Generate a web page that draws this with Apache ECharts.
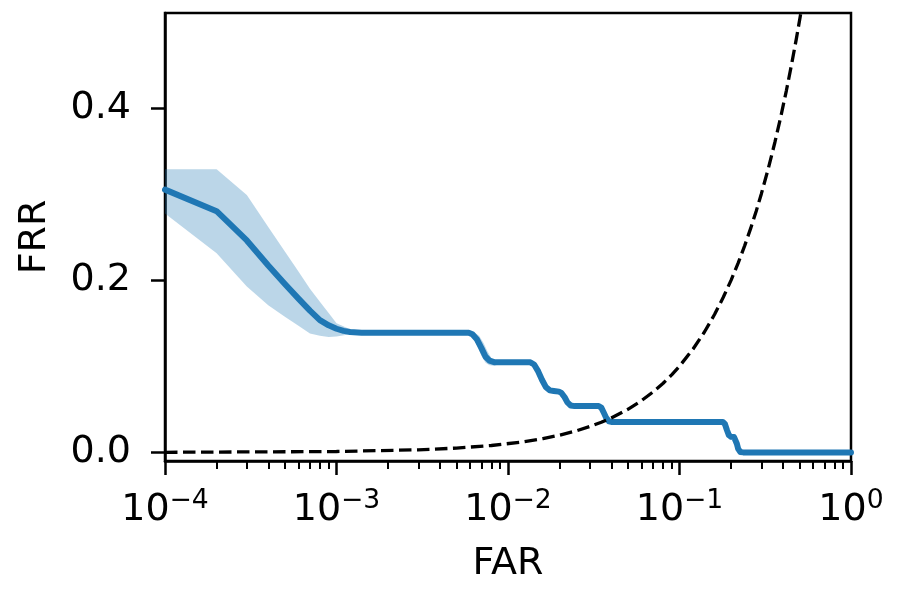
<!DOCTYPE html>
<html><head><meta charset="utf-8">
<script src="https://cdn.jsdelivr.net/npm/echarts@6/dist/echarts.min.js"></script>
<style>html,body{margin:0;padding:0;background:#fff}#c{width:900px;height:600px}</style>
</head><body><div id="c"></div>
<script>
// Mean FRR curve
const far = [0.0001,0.0002,0.0003,0.0004,0.0005,0.0006,0.0007,0.0008,0.0009,0.001,0.0011,0.0012,0.0014,0.0017,0.002,0.004,
  0.0059,0.0062,0.0066,0.0070,0.0074,0.0078,0.0083,0.009,
  0.0135,0.0142,0.015,0.0158,0.0166,0.0175,0.0185,0.0198,
  0.0205,0.0214,0.0222,0.0232,0.0245,
  0.0338,0.035,0.0362,0.0374,0.0388,0.0405,
  0.179,0.184,0.189,0.194,0.200,0.208,
  0.212,0.216,0.220,0.226,0.235,1.0];
const frr = [0.305,0.280,0.246,0.217,0.1955,0.1785,0.1645,0.1535,0.1475,0.1435,0.141,0.1398,0.1390,0.1388,0.1388,0.1388,
  0.1388,0.137,0.131,0.121,0.111,0.1065,0.1047,0.1045,
  0.1045,0.102,0.094,0.084,0.076,0.072,0.0713,0.0705,
  0.069,0.064,0.058,0.0545,0.0537,
  0.0537,0.052,0.046,0.040,0.036,0.0352,
  0.0352,0.033,0.026,0.020,0.018,0.0178,
  0.016,0.010,0.004,0.0005,0,0];
// Std band
const bandUpperFar = [0.0001,0.0002,0.0003,0.0004,0.0005,0.0006,0.0007,0.0008,0.0009,0.001,0.0012,0.0015,0.002,0.004,
  0.0059,0.0064,0.0068,0.0072,0.0076,0.0080,0.0085,0.009,
  0.0135,0.0145,0.0155,0.0165,0.0175,0.019,0.0205,0.0215,0.0225,0.024,0.026,
  0.034,0.036,0.038,0.040,0.043,0.05];
const bandUpperFrr = [0.3285,0.3285,0.2987,0.2617,0.2333,0.210,0.190,0.1748,0.1618,0.150,0.143,0.1395,0.139,0.1392,
  0.1395,0.1392,0.135,0.127,0.117,0.1095,0.1055,0.105,
  0.106,0.1035,0.094,0.082,0.075,0.073,0.072,0.068,0.060,0.056,0.055,
  0.0545,0.050,0.041,0.0365,0.036,0.0355];
const bandLowerFar = [0.0001,0.0002,0.0003,0.0004,0.0005,0.0006,0.0007,0.0008,0.0009,0.001,0.0012,0.0015,0.002,0.004,
  0.0059,0.0062,0.0066,0.0070,0.0074,0.0078,0.0083,0.009,0.010,
  0.0135,0.0142,0.015,0.0158,0.0166,0.0175,0.019,0.020,0.021,0.022,0.023,0.025,
  0.034,0.035,0.0362,0.0375,0.039,0.042,0.05];
const bandLowerFrr = [0.2774,0.231,0.1925,0.1707,0.1575,0.1469,0.138,0.1355,0.134,0.1345,0.137,0.1385,0.1385,0.1385,
  0.138,0.134,0.124,0.112,0.104,0.101,0.1005,0.1025,0.104,
  0.1035,0.100,0.091,0.080,0.073,0.0695,0.069,0.067,0.061,0.055,0.0515,0.0525,
  0.0525,0.050,0.043,0.037,0.034,0.0345,0.035];
// Reference line FRR = FAR
const eerFar = [0.0001,0.001,0.003,0.005,0.008,0.012,0.016,0.02,0.025,0.03,0.035,0.04,0.05,0.06,0.07,0.08,0.09,0.1,
  0.12,0.14,0.16,0.18,0.2,0.22,0.24,0.26,0.28,0.3,0.33,0.36,0.39,0.42,0.45,0.48,0.51,0.54];
const xMajorTicks = [0.0001,0.001,0.01,0.1,1];
const xMinorTicks = [0.0002,0.0003,0.0004,0.0005,0.0006,0.0007,0.0008,0.0009,
  0.002,0.003,0.004,0.005,0.006,0.007,0.008,0.009,
  0.02,0.03,0.04,0.05,0.06,0.07,0.08,0.09,
  0.2,0.3,0.4,0.5,0.6,0.7,0.8,0.9];
const yTicks = [0,0.2,0.4];

const FONT = 'DejaVu Sans';
const chart = echarts.init(document.getElementById('c'), null, {renderer:'canvas'});
chart.setOption({
  animation:false,
  backgroundColor:'#fff',
  grid:{left:165,right:49,top:13,bottom:139,show:true,borderColor:'#000',borderWidth:2.5,backgroundColor:'transparent'},
  xAxis:[{
    type:'log',logBase:10,min:0.0001,max:1,
    axisLine:{show:true,onZero:false,lineStyle:{color:'#000',width:2.5}},
    axisTick:{show:true,length:14,lineStyle:{color:'#000',width:2.5},customValues:xMajorTicks},
    axisLabel:{customValues:xMajorTicks,margin:24,color:'#000',
      formatter:function(v){const e=Math.round(Math.log10(v));return '{b|10}{s|'+(e<0?'\u2212'+(-e):e)+'}';},
      rich:{b:{fontFamily:FONT,fontSize:38,color:'#000',lineHeight:44,verticalAlign:'bottom'},
            s:{fontFamily:FONT,fontSize:26.6,color:'#000',lineHeight:30,verticalAlign:'bottom',padding:[0,0,14,0]}}},
    splitLine:{show:false},
    name:'FAR',nameLocation:'middle',nameGap:84,
    nameTextStyle:{fontFamily:FONT,fontSize:38,color:'#000'}
  },{
    type:'log',logBase:10,min:0.0001,max:1,position:'bottom',
    axisLine:{show:false,onZero:false},
    axisTick:{show:true,length:8,lineStyle:{color:'#000',width:2},customValues:xMinorTicks},
    axisLabel:{show:false},splitLine:{show:false}
  }],
  yAxis:{
    type:'value',min:-0.01,max:0.51,
    axisLine:{show:true,onZero:false,lineStyle:{color:'#000',width:2.5}},
    axisTick:{show:true,length:14,lineStyle:{color:'#000',width:2.5},customValues:yTicks},
    axisLabel:{customValues:yTicks,margin:34,fontFamily:FONT,fontSize:38,color:'#000',
      formatter:function(v){return v.toFixed(1);}},
    splitLine:{show:false},
    name:'FRR',nameLocation:'middle',nameGap:111,nameRotate:90,
    nameTextStyle:{fontFamily:FONT,fontSize:38,color:'#000'}
  },
  series:[{
    type:'custom',coordinateSystem:'cartesian2d',xAxisIndex:0,yAxisIndex:0,
    data:[[0.001,0.2]],clip:true,silent:true,z:1,
    renderItem:function(params,api){
      const pts=[];
      for(let i=0;i<bandUpperFar.length;i++) pts.push(api.coord([bandUpperFar[i],bandUpperFrr[i]]));
      for(let i=bandLowerFar.length-1;i>=0;i--) pts.push(api.coord([bandLowerFar[i],bandLowerFrr[i]]));
      return {type:'polygon',shape:{points:pts},style:{fill:'rgba(31,119,180,0.3)',stroke:null}};
    }
  },{
    type:'line',xAxisIndex:0,yAxisIndex:0,symbol:'none',z:3,
    data:far.map((x,i)=>[x,frr[i]]),
    lineStyle:{color:'#1f77b4',width:6,cap:'round',join:'round'}
  },{
    type:'line',xAxisIndex:0,yAxisIndex:0,symbol:'none',z:4,
    data:eerFar.map(v=>[v,v]),
    lineStyle:{color:'#000',width:3.3,type:[12.5,5.5]}
  }]
});
</script></body></html>
